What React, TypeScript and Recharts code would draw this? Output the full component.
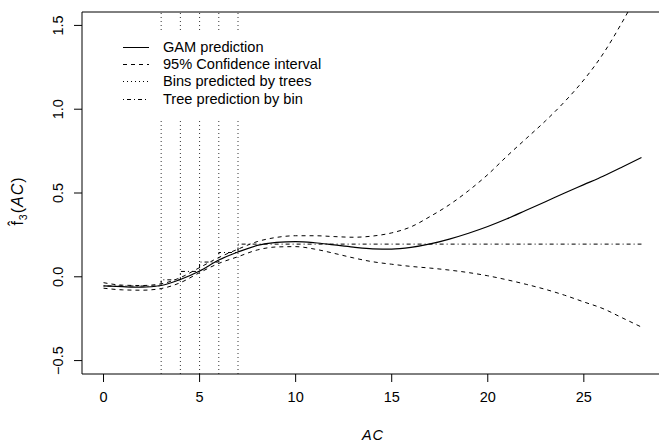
import { CartesianGrid, Line, LineChart, ReferenceLine, XAxis, YAxis } from "recharts";

const xs = [0, 1, 2, 3, 4, 5, 6, 7, 8, 9, 10, 11, 12, 13, 14, 15, 16, 17, 18, 19, 20, 21, 22, 23, 24, 25, 26, 27, 28];
const gamFit = [-0.054, -0.059, -0.062, -0.052, -0.016, 0.035, 0.1, 0.148, 0.187, 0.205, 0.21, 0.203, 0.19, 0.177, 0.167, 0.165, 0.175, 0.196, 0.225, 0.26, 0.3, 0.346, 0.397, 0.448, 0.5, 0.55, 0.6, 0.655, 0.712];
const ciUpper = [-0.035, -0.05, -0.052, -0.042, -0.005, 0.055, 0.115, 0.165, 0.21, 0.235, 0.245, 0.245, 0.24, 0.236, 0.243, 0.262, 0.298, 0.36, 0.43, 0.514, 0.61, 0.72, 0.825, 0.93, 1.045, 1.175, 1.33, 1.52, 1.73];
const ciLower = [-0.068, -0.078, -0.08, -0.07, -0.035, 0.025, 0.08, 0.12, 0.16, 0.178, 0.18, 0.165, 0.14, 0.113, 0.09, 0.075, 0.062, 0.052, 0.04, 0.025, 0.006, -0.018, -0.045, -0.075, -0.11, -0.15, -0.19, -0.245, -0.3];

const binEdges = [3, 4, 5, 6, 7];
const treeX = [0, 3, 4, 5, 6, 7, 28];
const treeFit = [-0.055, -0.018, 0.032, 0.088, 0.145, 0.195, 0.195];

const xTicks = [0, 5, 10, 15, 20, 25];
const yTicks = [-0.5, 0, 0.5, 1, 1.5];

const legendItems = [
  { label: "GAM prediction", dash: "" },
  { label: "95% Confidence interval", dash: "4 4" },
  { label: "Bins predicted by trees", dash: "1 3" },
  { label: "Tree prediction by bin", dash: "1 3 4 3" },
];

const curveRows = xs.map((x, i) => ({ x, fit: gamFit[i], upper: ciUpper[i], lower: ciLower[i] }));
const treeRows = treeX.map((x, i) => ({ x, tree: treeFit[i] }));

const FONT = "'Liberation Sans', Arial, Helvetica, sans-serif";

const fmtY = (v: number) => (v < 0 ? "\u2212" + Math.abs(v).toFixed(1) : v.toFixed(1));

function YTick(props: any) {
  const { x, y, payload } = props;
  return (
    <text x={x} y={y} transform={`rotate(-90, ${x}, ${y})`} textAnchor="middle" fontSize={14.5} fontFamily={FONT} fill="#000">
      {fmtY(payload.value)}
    </text>
  );
}

function XTitle() {
  return (
    <text x={373} y={440} textAnchor="middle" fontSize={14.5} fontFamily={FONT} fontStyle="italic" fill="#000" letterSpacing={1}>
      AC
    </text>
  );
}

function YTitle() {
  return (
    <text x={23} y={201} transform="rotate(-90, 23, 201)" textAnchor="middle" fontSize={16} fontFamily={FONT} fill="#000" letterSpacing={1}>
      {"f\u0302"}
      <tspan fontSize={10.5} dy={4}>3</tspan>
      <tspan dy={-4}>(</tspan>
      <tspan fontStyle="italic">AC</tspan>
      <tspan>)</tspan>
    </text>
  );
}

function PlotLegend() {
  return (
    <div style={{ position: "absolute", left: 112, top: 30, width: 225, height: 88, background: "#fff", fontFamily: FONT, fontSize: 14.6 }}>
      {legendItems.map((it, i) => (
        <div key={it.label} style={{ position: "absolute", left: 0, top: 9 + i * 17.2, height: 17, width: 225, display: "flex", alignItems: "center" }}>
          <svg width={40} height={17} style={{ flex: "none" }}>
            <line x1={11} x2={37} y1={8.5} y2={8.5} stroke="#000" strokeWidth={1} strokeDasharray={it.dash || undefined} />
          </svg>
          <span style={{ marginLeft: 11, whiteSpace: "nowrap", lineHeight: "17px" }}>{it.label}</span>
        </div>
      ))}
    </div>
  );
}

export default function App() {
  return (
    <div style={{ position: "absolute", left: 0, top: 0, width: 659, height: 443, overflow: "hidden", background: "#fff" }}>
      <LineChart width={670} height={443} data={curveRows} margin={{ top: 12, right: 7, left: 0, bottom: 0 }}>
        <CartesianGrid stroke="none" />
        <XAxis
          dataKey="x"
          type="number"
          domain={[-1.12, 29.12]}
          allowDataOverflow
          ticks={xTicks}
          height={69}
          tickSize={8}
          tickMargin={10}
          axisLine={{ stroke: "#000" }}
          tickLine={{ stroke: "#000" }}
          tick={{ fontSize: 14.5, fontFamily: FONT, fill: "#000" }}
          label={<XTitle />}
        />
        <YAxis
          type="number"
          domain={[-0.58, 1.58]}
          allowDataOverflow
          ticks={yTicks}
          width={82}
          tickSize={8}
          tickMargin={11}
          axisLine={{ stroke: "#000" }}
          tickLine={{ stroke: "#000" }}
          tick={<YTick />}
          label={<YTitle />}
        />
        <ReferenceLine y={1.58} stroke="#000" strokeWidth={1} />
        {binEdges.map((b) => (
          <ReferenceLine key={b} x={b} stroke="#333" strokeWidth={1} strokeDasharray="1 3" />
        ))}
        <Line type="monotone" dataKey="upper" stroke="#000" strokeWidth={1} strokeDasharray="4 4" dot={false} isAnimationActive={false} />
        <Line type="monotone" dataKey="lower" stroke="#000" strokeWidth={1} strokeDasharray="4 4" dot={false} isAnimationActive={false} />
        <Line type="monotone" dataKey="fit" stroke="#000" strokeWidth={1.2} dot={false} isAnimationActive={false} />
        <Line data={treeRows} type="stepAfter" dataKey="tree" stroke="#000" strokeWidth={1} strokeDasharray="1 3 4 3" dot={false} isAnimationActive={false} />
      </LineChart>
      <PlotLegend />
    </div>
  );
}
